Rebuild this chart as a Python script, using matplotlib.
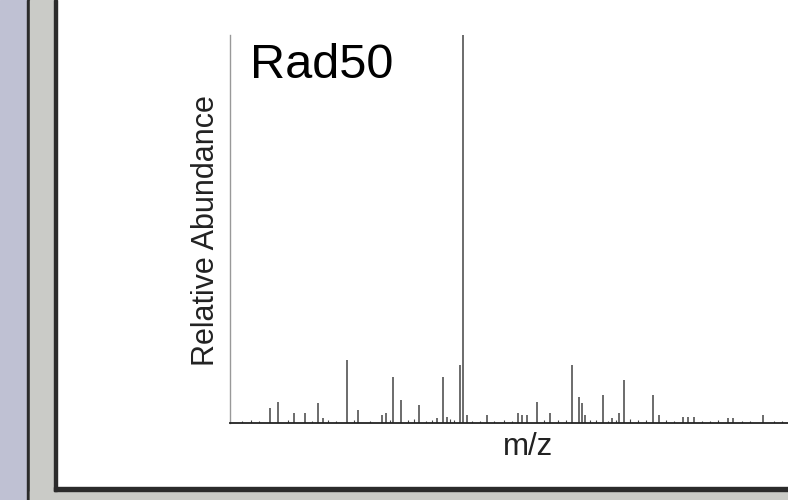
import matplotlib.pyplot as plt
from matplotlib.patches import Rectangle

plt.rcParams['font.family'] = ['Liberation Sans', 'DejaVu Sans']

# peak list (m/z, relative abundance %)
peak_mz = [400, 420, 460, 487.5, 520, 532.5, 592.5, 620, 680, 690, 707.5,
           727.5, 772.5, 817.5, 832.5, 842.5, 875, 882.5, 892.5, 942.5,
           1020, 1030, 1042.5, 1067.5, 1100, 1155, 1172.5, 1180, 1187.5,
           1232.5, 1255, 1272.5, 1285, 1357.5, 1372.5, 1432.5, 1445, 1460,
           1545, 1557.5, 1632.5]
peak_int = [3.9, 5.4, 2.6, 2.6, 5.2, 1.3, 16.2, 3.4, 2.1, 2.6, 11.9,
            5.9, 4.6, 1.3, 11.9, 1.5, 15.0, 100.0, 2.0, 2.1,
            2.6, 2.1, 2.1, 5.4, 2.6, 15.0, 6.7, 5.2, 2.1,
            7.2, 1.3, 2.6, 11.1, 7.2, 2.1, 1.5, 1.5, 1.5,
            1.3, 1.3, 2.1]

# small background peaks along the baseline
noise_mz = [330, 352, 372, 445, 505, 545, 565, 610, 650, 700, 745, 760,
            790, 805, 850, 860, 905, 925, 960, 985, 1005, 1085, 1120,
            1140, 1200, 1215, 1245, 1265, 1300, 1320, 1340, 1390, 1410,
            1480, 1500, 1520, 1580, 1600, 1660, 1680]
noise_int = [0.6, 0.8, 0.5, 0.7, 0.6, 0.9, 0.5, 0.8, 0.6, 0.9, 0.7, 1.0,
             0.6, 0.8, 1.0, 0.7, 0.5, 0.6, 0.5, 0.7, 0.6, 0.8, 0.9,
             0.7, 0.9, 0.8, 0.6, 0.9, 1.0, 0.8, 0.9, 0.7, 0.6,
             0.6, 0.5, 0.7, 0.6, 0.5, 0.6, 0.5]

W, H = 788, 500
fig = plt.figure(figsize=(W / 100, H / 100), dpi=100)
fig.patch.set_facecolor('white')


def box(x0, y0, x1, y1, color):
    # pixel box, y measured from the top edge
    fig.patches.append(Rectangle((x0 / W, 1 - y1 / H), (x1 - x0) / W, (y1 - y0) / H,
                                 transform=fig.transFigure, color=color, zorder=-10))


# window frame around the panel
box(0, 0, 27, H, '#bfc1d3')
box(27, 0, 30, H, '#2b2b2b')
box(30, 0, 54, H, '#cacbc7')
box(30, 491, W, H, '#cacbc7')
box(54, 0, 57, 491, '#2b2b2b')
box(54, 487, W, 491, '#2b2b2b')

ax = fig.add_axes([230 / W, 1 - 423 / H, (W - 230) / W, 388 / H])
ax.vlines(noise_mz, 0, noise_int, color='#444444', lw=0.8)
ax.vlines(peak_mz, 0, peak_int, color='#444444', lw=1.1)
ax.set_xlim(300, 1695)
ax.set_ylim(0, 100)
ax.set_xticks([])
ax.set_yticks([])
ax.spines['top'].set_visible(False)
ax.spines['right'].set_visible(False)
ax.spines['left'].set_color('#999999')
ax.spines['left'].set_linewidth(1.0)
ax.spines['bottom'].set_color('#222222')
ax.spines['bottom'].set_linewidth(1.3)
ax.patch.set_alpha(0)

fig.text(250 / W, 1 - 78 / H, 'Rad50', fontsize=35, ha='left', va='baseline')
fig.text(206 / W, 1 - 231 / H, 'Relative Abundance', fontsize=22, rotation=90,
         ha='center', va='center', color='#222222')
fig.text(528 / W, 1 - 447 / H, 'm/z', fontsize=22.5, ha='center', va='center',
         color='#222222')

fig.savefig('out.png', dpi=100)
